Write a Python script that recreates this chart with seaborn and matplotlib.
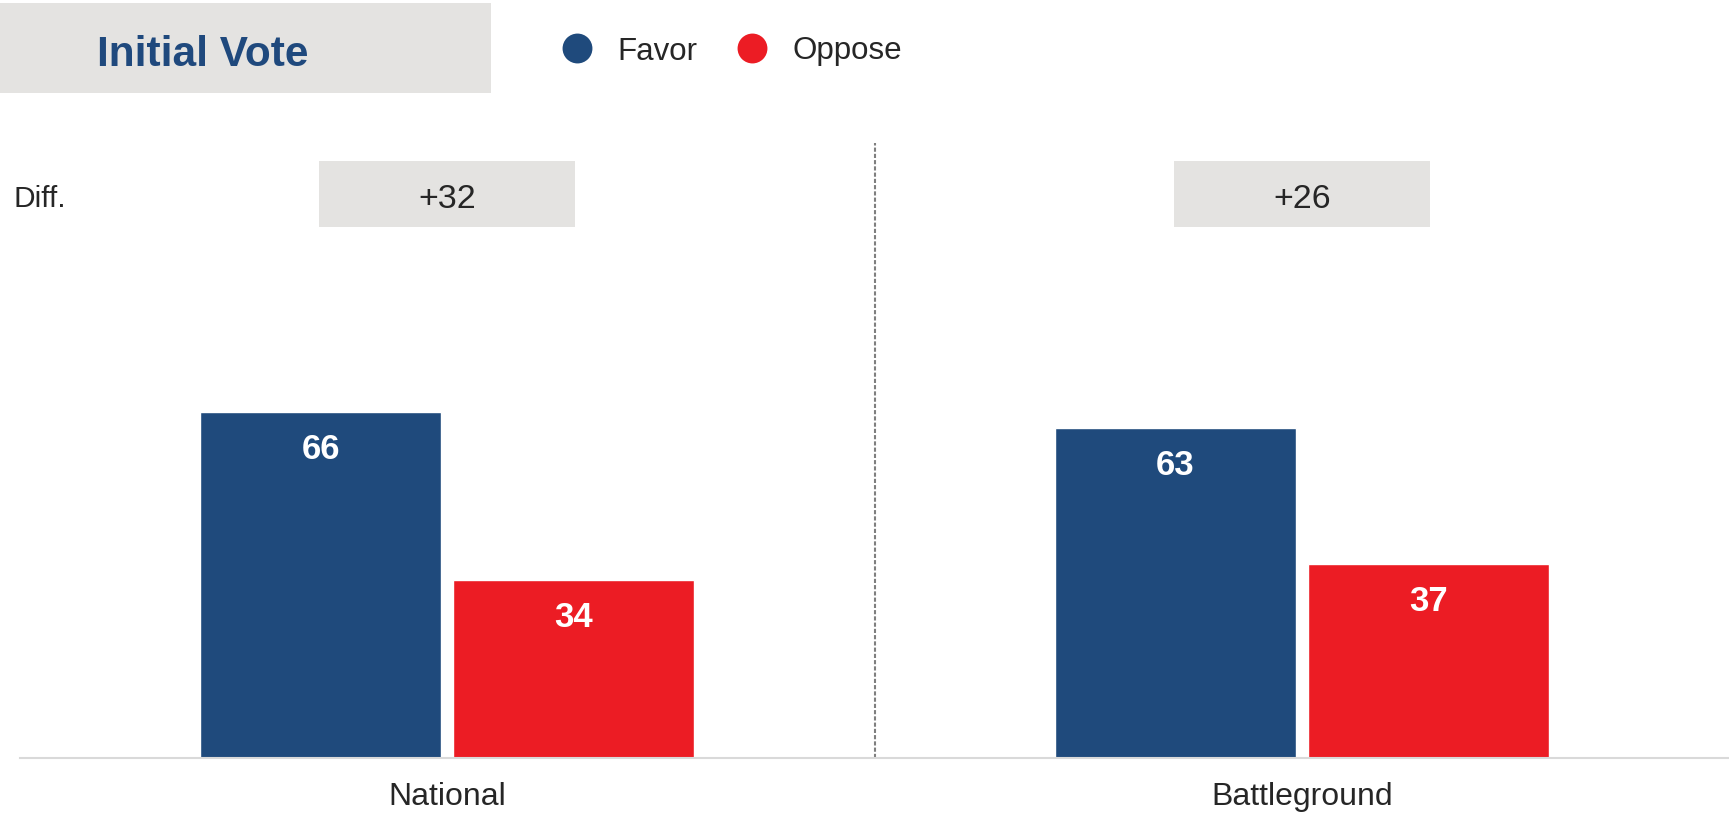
import matplotlib
matplotlib.use("Agg")
import matplotlib.pyplot as plt
from matplotlib.patches import Rectangle
from matplotlib.lines import Line2D
import seaborn as sns
import pandas as pd

# ---- data ----
categories = ["National", "Battleground"]
series = ["Favor", "Oppose"]
favor = [66, 63]
oppose = [34, 37]
title = "Initial Vote"
diff_label = "Diff."

BLUE = "#1F4A7C"
RED = "#EC1C24"
GREY_BOX = "#E4E3E1"
TXT = "#262626"

sns.set_theme(style="white")
plt.rcParams["font.family"] = ["Liberation Sans", "DejaVu Sans"]

W, H = 1729, 814
fig = plt.figure(figsize=(W / 100, H / 100), dpi=100)
ax = fig.add_axes([20 / W, 56 / H, 1709 / W, 615 / H])

df = pd.DataFrame({
    "region": categories * 2,
    "vote": [series[0]] * len(categories) + [series[1]] * len(categories),
    "pct": favor + oppose,
})

sns.barplot(data=df, x="region", y="pct", hue="vote", order=categories,
            hue_order=series, palette=[BLUE, RED], width=0.592, gap=0.047,
            saturation=1, legend=False, ax=ax, errorbar=None)

ax.set_xlim(-0.5, 1.5)
ax.set_ylim(0, 117.4)
for s in ["top", "right", "left"]:
    ax.spines[s].set_visible(False)
ax.spines["bottom"].set_color("#D9D9D9")
ax.spines["bottom"].set_linewidth(1.5)
ax.set_yticks([])
ax.set_xlabel("")
ax.set_ylabel("")
ax.tick_params(axis="x", length=0, pad=17, labelsize=23, labelcolor=TXT)

# separator
ax.axvline(0.5, color="#7F7F7F", ls=(0, (2, 1)), lw=1.5)

# bar value labels
for cont in ax.containers:
    for bar, v in zip(cont, cont.datavalues):
        ax.annotate(f"{v:.0f}", (bar.get_x() + bar.get_width() / 2, bar.get_height()),
                    xytext=(0, -34), textcoords="offset pixels", ha="center",
                    va="center_baseline", color="white", fontweight="bold", fontsize=25)

# diff boxes
for i, (f, o) in enumerate(zip(favor, oppose)):
    ax.add_patch(Rectangle((i - 0.15, 101.3), 0.3, 12.6, color=GREY_BOX, clip_on=False, lw=0))
    ax.text(i, 107.2, f"{f - o:+d}", ha="center", va="center_baseline",
            fontsize=24.5, color=TXT)

fig.text(13 / W, 1 - 196 / H, diff_label, fontsize=21.5, color=TXT, va="center_baseline")

# title box
fig.add_artist(Rectangle((0, 1 - 93 / H), 491 / W, 90 / H, transform=fig.transFigure,
                         color=GREY_BOX, lw=0))
fig.text(97 / W, 1 - 50 / H, title, fontsize=30.5, fontweight="bold", color="#1F497D",
         va="center_baseline")

# legend
leg_x = [(577, 617), (752, 792)]
for (cx, tx), name, col in zip(leg_x, series, [BLUE, RED]):
    fig.add_artist(Line2D([cx / W], [1 - 48 / H], marker="o", markersize=21.5, color=col,
                          markeredgewidth=0, transform=fig.transFigure))
    fig.text(tx / W, 1 - 48 / H, name, fontsize=22.5, color=TXT, va="center_baseline")

fig.savefig("out.png", dpi=100)
